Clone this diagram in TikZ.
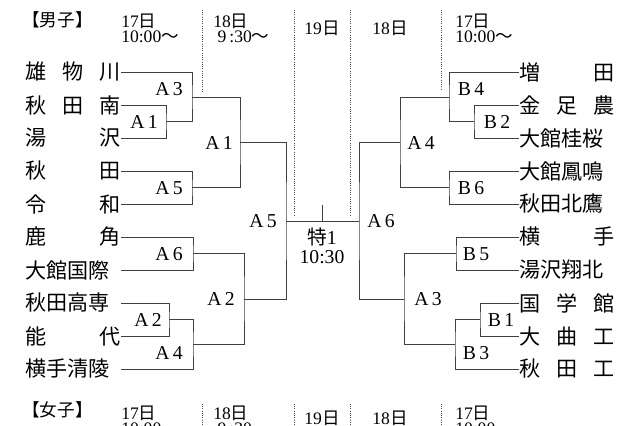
\documentclass[tikz,border=0pt]{standalone}
\usepackage{fontspec}
\setmainfont{Liberation Serif}
\newfontfamily\cjk{Noto Sans CJK JP}
\usetikzlibrary{positioning}
\tikzset{
  team/.style={inner sep=0pt, font=\cjk\fontsize{15}{15}\selectfont},
  game/.style={inner sep=0pt, font=\fontsize{14}{14}\selectfont},
  head/.style={inner sep=0pt, align=left, font=\fontsize{12.5}{10.5}\selectfont},
  line/.style={draw=black!75, line width=0.6pt},
  day/.style={draw=black!70, densely dotted, line width=0.6pt}
}
\newcommand{\spread}[1]{\makebox[68pt][s]{#1}}
\begin{document}
\begin{tikzpicture}[x=0.025cm, y=-0.025cm]
            \useasboundingbox (0,0) rectangle (640,426);

            % day columns
            \draw[day] (202,10) -- (202,92);
            \draw[day] (294,10) -- (294,216);
            \draw[day] (350,10) -- (350,216);
            \draw[day] (441,10) -- (441,90);
            \draw[day] (202,404) -- (202,430);
            \draw[day] (294,404) -- (294,430);
            \draw[day] (350,404) -- (350,430);
            \draw[day] (441,404) -- (441,430);

            % headings
            \node[head, anchor=west] (men)  at (22,20)  {\cjk【男子】};
            \node[head, anchor=west] (h17a) at (121,28) {17{\cjk 日}\\10:00{\cjk ～}};
            \node[head, anchor=west] (h18a) at (213,28) {18{\cjk 日}\\\ 9\,:30{\cjk ～}};
            \node[head]              (h19)  at (322,28) {19{\cjk 日}};
            \node[head]              (h18b) at (390,28) {18{\cjk 日}};
            \node[head, anchor=west] (h17b) at (455,28) {17{\cjk 日}\\10:00{\cjk ～}};

            \node[head, anchor=west] (women) at (22,410)  {\cjk【女子】};
            \node[head, anchor=west] (w17a)  at (121,420) {17{\cjk 日}\\10:00};
            \node[head, anchor=west] (w18a)  at (213,420) {18{\cjk 日}\\\ 9\,:30};
            \node[head]              (w19)   at (322,418) {19{\cjk 日}};
            \node[head]              (w18b)  at (390,418) {18{\cjk 日}};
            \node[head, anchor=west] (w17b)  at (455,420) {17{\cjk 日}\\10:00};

            % left teams
            \node[team, anchor=east] (l1)  at (121,72)  {\spread{雄\hfill 物\hfill 川}};
            \node[team, anchor=east] (l2)  at (121,105) {\spread{秋\hfill 田\hfill 南}};
            \node[team, anchor=east] (l3)  at (121,138) {\spread{湯\hfill 沢}};
            \node[team, anchor=east] (l4)  at (121,171) {\spread{秋\hfill 田}};
            \node[team, anchor=east] (l5)  at (121,204) {\spread{令\hfill 和}};
            \node[team, anchor=east] (l6)  at (121,237) {\spread{鹿\hfill 角}};
            \node[team, anchor=east] (l7)  at (121,270) {\spread{大館国際}};
            \node[team, anchor=east] (l8)  at (121,303) {\spread{秋田高専}};
            \node[team, anchor=east] (l9)  at (121,336) {\spread{能\hfill 代}};
            \node[team, anchor=east] (l10) at (121,369) {\spread{横手清陵}};

            % right teams
            \node[team, anchor=west] (r1)  at (519,72)  {\spread{増\hfill 田}};
            \node[team, anchor=west] (r2)  at (519,105) {\spread{金\hfill 足\hfill 農}};
            \node[team, anchor=west] (r3)  at (519,138) {\spread{大館桂桜}};
            \node[team, anchor=west] (r4)  at (519,171) {\spread{大館鳳鳴}};
            \node[team, anchor=west] (r5)  at (519,204) {\spread{秋田北鷹}};
            \node[team, anchor=west] (r6)  at (519,237) {\spread{横\hfill 手}};
            \node[team, anchor=west] (r7)  at (519,270) {\spread{湯沢翔北}};
            \node[team, anchor=west] (r8)  at (519,303) {\spread{国\hfill 学\hfill 館}};
            \node[team, anchor=west] (r9)  at (519,336) {\spread{大\hfill 曲\hfill 工}};
            \node[team, anchor=west] (r10) at (519,369) {\spread{秋\hfill 田\hfill 工}};

            % left bracket
            \coordinate (la1) at (166,121.5);
            \coordinate (la3) at (192,97);
            \coordinate (la5) at (192,187.5);
            \coordinate (ls1) at (240,142);
            \coordinate (la6) at (193,253.5);
            \coordinate (la2) at (169,319.5);
            \coordinate (la4) at (193,344);
            \coordinate (ls2) at (244,299);
            \coordinate (lf)  at (286,221);
            \draw[line] (l2.east) -| (la1) |- (l3.east);
            \draw[line] (l1.east) -| (la3) |- (la1);
            \draw[line] (l4.east) -| (la5) |- (l5.east);
            \draw[line] (la3) -| (ls1) |- (la5);
            \draw[line] (l6.east) -| (la6) |- (l7.east);
            \draw[line] (l8.east) -| (la2) |- (l9.east);
            \draw[line] (la2) -| (la4) |- (l10.east);
            \draw[line] (la6) -| (ls2) |- (la4);
            \draw[line] (ls1) -| (lf) |- (ls2);

            % right bracket
            \coordinate (rb2) at (474,121.5);
            \coordinate (rb4) at (449,97);
            \coordinate (rb6) at (449,187.5);
            \coordinate (rs1) at (400,142);
            \coordinate (rb5) at (456,253.5);
            \coordinate (rb1) at (480,319.5);
            \coordinate (rb3) at (455,344);
            \coordinate (rs2) at (404,299);
            \coordinate (rf)  at (359,221);
            \draw[line] (r2.west) -| (rb2) |- (r3.west);
            \draw[line] (r1.west) -| (rb4) |- (rb2);
            \draw[line] (r4.west) -| (rb6) |- (r5.west);
            \draw[line] (rb4) -| (rs1) |- (rb6);
            \draw[line] (r6.west) -| (rb5) |- (r7.west);
            \draw[line] (r8.west) -| (rb1) |- (r9.west);
            \draw[line] (rb1) -| (rb3) |- (r10.west);
            \draw[line] (rb5) -| (rs2) |- (rb3);
            \draw[line] (rs1) -| (rf) |- (rs2);

            % final
            \coordinate (fin) at (322,221);
            \coordinate (fintop) at (322,205);
            \draw[line] (lf) -- (rf);
            \draw[line] (fin) -- (fintop);
            \node[game, align=center] (final) at (322,246) {{\cjk 特}1\\[-1pt]10:30};

            % game numbers
            \node[game] (ga3)  at (169,89)  {A\,3};
            \node[game] (ga1)  at (144,122) {A\,1};
            \node[game] (ga5)  at (169,188) {A\,5};
            \node[game] (gs1)  at (219,143) {A\,1};
            \node[game] (ga6)  at (169,254) {A\,6};
            \node[game] (ga2)  at (148,320) {A\,2};
            \node[game] (ga4)  at (169,353) {A\,4};
            \node[game] (gs2)  at (221,299) {A\,2};
            \node[game] (gl)   at (263,221) {A\,5};
            \node[game] (gb4)  at (471,89)  {B\,4};
            \node[game] (gb2)  at (497,122) {B\,2};
            \node[game] (gb6)  at (471,188) {B\,6};
            \node[game] (gr1)  at (421,143) {A\,4};
            \node[game] (gb5)  at (476,254) {B\,5};
            \node[game] (gb1)  at (501,320) {B\,1};
            \node[game] (gb3)  at (476,353) {B\,3};
            \node[game] (gr2)  at (428,299) {A\,3};
            \node[game] (gr)   at (381,221) {A\,6};
\end{tikzpicture}
\end{document}
